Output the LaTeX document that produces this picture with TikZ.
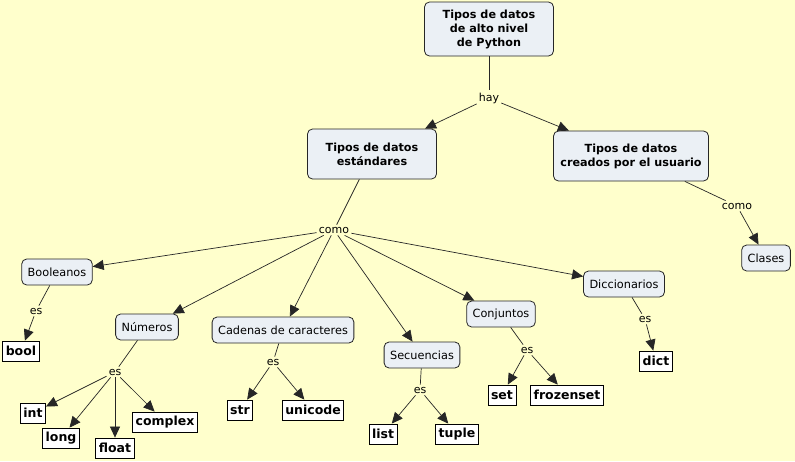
\documentclass[tikz,border=0pt]{standalone}
\usepackage{fontspec}
\setmainfont{DejaVu Sans}
\usetikzlibrary{arrows.meta}

\definecolor{mapbg}{HTML}{FFFFCC}
\definecolor{conceptfill}{HTML}{EBF0F5}

\tikzset{
    concept/.style={draw=black!85, fill=conceptfill, rounded corners=5pt, line width=0.8pt,
        inner xsep=6pt, inner ysep=3pt, minimum height=26pt, align=center,
        font=\fontsize{11.3}{13}\selectfont},
    bigconcept/.style={concept, font=\fontsize{11.2}{14}\selectfont\bfseries},
    leaf/.style={draw=black, fill=white, line width=0.8pt, inner xsep=3pt, inner ysep=1pt,
        minimum height=20pt, font=\fontsize{12.5}{14}\selectfont\bfseries},
    linkphrase/.style={inner sep=2pt, font=\fontsize{11}{12}\selectfont},
    joinline/.style={draw=black!85, line width=0.7pt},
    toarrow/.style={joinline, -{Triangle[length=11pt,width=10pt]}},
}

\begin{document}
\begin{tikzpicture}[x=1pt,y=-1pt]
    % Background
    \fill[mapbg] (0,0) rectangle (795,461);

    % Top concepts
    \node[bigconcept, minimum width=129pt, minimum height=54pt] (python) at (489,29) {Tipos de datos\\de alto nivel\\de Python};
    \node[linkphrase] (hay) at (489,98) {hay};
    \node[bigconcept, minimum width=129pt, minimum height=50pt] (estandar) at (372,154) {Tipos de datos\\estándares};
    \node[bigconcept, minimum width=155pt, minimum height=50pt] (usuario) at (631,156) {Tipos de datos\\creados por el usuario};

    \draw[joinline] (python) -- (hay);
    \draw[toarrow] (hay) -- (estandar);
    \draw[toarrow] (hay) -- (usuario);

    % User types
    \node[linkphrase] (como2) at (737,206) {como};
    \node[concept] (clases) at (766,258) {Clases};
    \draw[joinline] (usuario) -- (como2);
    \draw[toarrow] (como2) -- (clases);

    % Standard types
    \node[linkphrase] (como) at (334,230) {como};
    \draw[joinline] (estandar) -- (como);

    \node[concept] (booleanos) at (57,272) {Booleanos};
    \node[concept] (numeros) at (147,327) {Números};
    \node[concept] (cadenas) at (283,330) {Cadenas de caracteres};
    \node[concept] (secuencias) at (422,355) {Secuencias};
    \node[concept] (conjuntos) at (501,314) {Conjuntos};
    \node[concept] (diccionarios) at (624,284) {Diccionarios};

    \foreach \t in {booleanos,numeros,cadenas,secuencias,conjuntos,diccionarios} {
        \draw[toarrow] (como) -- (\t);
    }

    % Booleanos
    \node[linkphrase] (esbool) at (36,311) {es};
    \node[leaf] (bool) at (21,351) {bool};
    \draw[joinline] (booleanos) -- (esbool);
    \draw[toarrow] (esbool) -- (bool);

    % Numeros
    \node[linkphrase] (esnum) at (115,372) {es};
    \node[leaf] (int) at (33,413) {int};
    \node[leaf] (long) at (61,438) {long};
    \node[leaf] (float) at (115,448) {float};
    \node[leaf] (complex) at (165,422) {complex};
    \draw[joinline] (numeros) -- (esnum);
    \foreach \t in {int,long,float,complex} {
        \draw[toarrow] (esnum) -- (\t);
    }

    % Cadenas
    \node[linkphrase] (escad) at (273,362) {es};
    \node[leaf] (str) at (240,410) {str};
    \node[leaf] (unicode) at (313,410) {unicode};
    \draw[joinline] (cadenas) -- (escad);
    \draw[toarrow] (escad) -- (str);
    \draw[toarrow] (escad) -- (unicode);

    % Secuencias
    \node[linkphrase] (essec) at (420,390) {es};
    \node[leaf] (list) at (383,434) {list};
    \node[leaf] (tuple) at (457,434) {tuple};
    \draw[joinline] (secuencias) -- (essec);
    \draw[toarrow] (essec) -- (list);
    \draw[toarrow] (essec) -- (tuple);

    % Conjuntos
    \node[linkphrase] (esconj) at (527,350) {es};
    \node[leaf] (set) at (502,395) {set};
    \node[leaf] (frozenset) at (567,395) {frozenset};
    \draw[joinline] (conjuntos) -- (esconj);
    \draw[toarrow] (esconj) -- (set);
    \draw[toarrow] (esconj) -- (frozenset);

    % Diccionarios
    \node[linkphrase] (esdic) at (645,319) {es};
    \node[leaf] (dict) at (656,361) {dict};
    \draw[joinline] (diccionarios) -- (esdic);
    \draw[toarrow] (esdic) -- (dict);
\end{tikzpicture}
\end{document}
